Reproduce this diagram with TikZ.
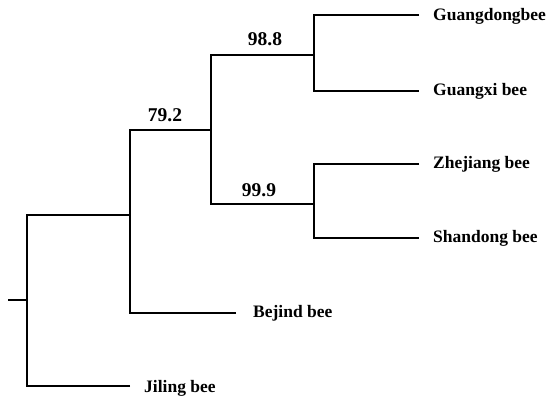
\documentclass[tikz,border=0pt]{standalone}
\usepackage{fontspec}
\setmainfont{Liberation Serif}
\begin{document}
\begin{tikzpicture}[x=1pt,y=-1pt,
  br/.style={line width=2.2pt,line cap=butt,line join=miter},
  leaf/.style={anchor=base west,inner sep=0pt,font=\bfseries\fontsize{17.5}{19}\selectfont},
  boot/.style={anchor=base,inner sep=0pt,font=\bfseries\fontsize{19.5}{21}\selectfont}]
\useasboundingbox (0,0) rectangle (552,398);
% internal vertices
\coordinate (r0) at (8,300);
\coordinate (r) at (27,300);
\coordinate (rt) at (27,215);
\coordinate (rb) at (27,386);
\coordinate (bt) at (130,130);
\coordinate (bm) at (130,215);
\coordinate (bb) at (130,313);
\coordinate (ct) at (211,55);
\coordinate (cm) at (211,130);
\coordinate (cb) at (211,204);
\coordinate (dt) at (314,15);
\coordinate (dm) at (314,55);
\coordinate (db) at (314,91);
\coordinate (et) at (314,164);
\coordinate (em) at (314,204);
\coordinate (eb) at (314,238);
% leaf ends
\coordinate (gd) at (419,15);
\coordinate (gx) at (419,91);
\coordinate (zj) at (419,164);
\coordinate (sd) at (419,238);
\coordinate (bj) at (236,313);
\coordinate (jl) at (130,386);
% labels
\node[leaf] (Lgd) at (433,21) {Guangdongbee};
\node[leaf] (Lgx) at (433,96) {Guangxi bee};
\node[leaf] (Lzj) at (433,169) {Zhejiang bee};
\node[leaf] (Lsd) at (433,243) {Shandong bee};
\node[leaf] (Lbj) at (253,318) {Bejind bee};
\node[leaf] (Ljl) at (144,392) {Jiling bee};
\node[boot] (n988) at (265,46) {98.8};
\node[boot] (n999) at (259,197) {99.9};
\node[boot] (n792) at (165,122) {79.2};
% branches
\draw[br] (r0) -- (r);
\draw[br] (jl) -- (rb) -- (rt) -- (bm);
\draw[br] (bj) -- (bb) -- (bt) -- (cm);
\draw[br] (em) -- (cb) -- (ct) -- (dm);
\draw[br] (gd) -- (dt) -- (db) -- (gx);
\draw[br] (zj) -- (et) -- (eb) -- (sd);
\end{tikzpicture}
\end{document}
